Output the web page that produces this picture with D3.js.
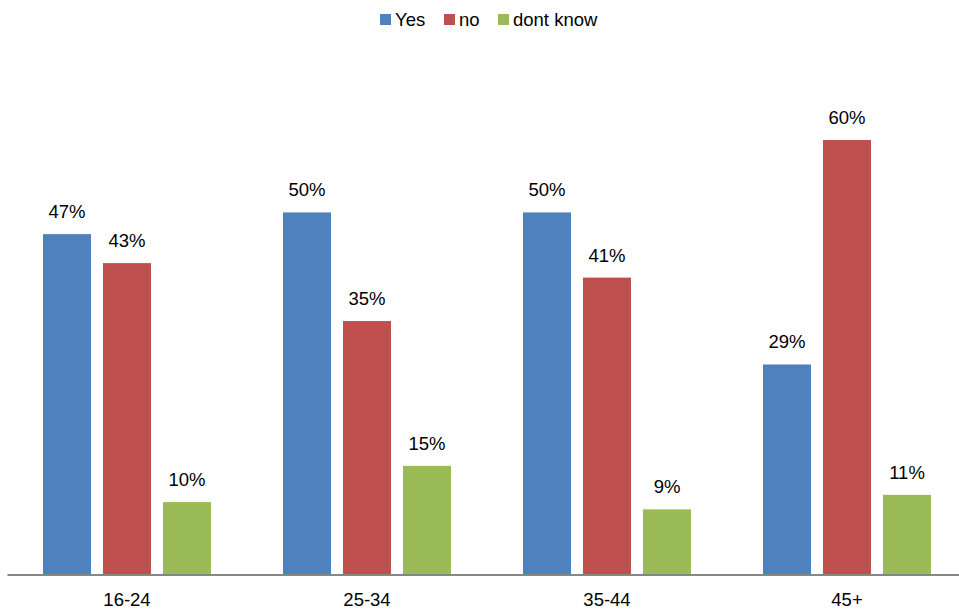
<!DOCTYPE html>
<html>
<head>
<meta charset="utf-8">
<script src="https://cdn.jsdelivr.net/npm/d3@7"></script>
<style>
  body { margin: 0; background: #fff; }
  text { font-family: "Liberation Sans", Arial, sans-serif; fill: #000; }
</style>
</head>
<body>
<svg id="chart"></svg>
<script>
// chart data
var categories = ["16-24", "25-34", "35-44", "45+"]
var seriesNames = ["Yes", "no", "dont know"]
var yesValues = [47, 50, 50, 29]
var noValues = [43, 35, 41, 60]
var dontKnowValues = [10, 15, 9, 11]
var colors = ["#4f81bd", "#c0504d", "#9bbb59"]

var allSeries = [yesValues, noValues, dontKnowValues]

var width = 959, height = 613
var svg = d3.select("#chart").attr("width", width).attr("height", height)

var baseline = 574.5
var fontSize = 18.5

// x scales
var x0 = d3.scaleBand().domain(categories).range([7, 967])
var x1 = d3.scaleBand().domain(seriesNames).range([36, 204]).paddingInner(0.2)
var y = d3.scaleLinear().domain([0, 60]).range([baseline, 140])

// bars
var groups = svg.append("g").selectAll("g")
    .data(categories)
    .enter().append("g")
    .attr("transform", d => "translate(" + x0(d) + ",0)")

groups.each(function(cat, ci) {
    var g = d3.select(this)
    seriesNames.forEach((s, si) => {
        var v = allSeries[si][ci]
        g.append("rect")
         .attr("x", x1(s))
         .attr("y", y(v))
         .attr("width", x1.bandwidth())
         .attr("height", baseline - y(v))
         .attr("fill", colors[si])
        g.append("text")
         .attr("x", x1(s) + x1.bandwidth() / 2)
         .attr("y", y(v) - 16)
         .attr("text-anchor", "middle")
         .attr("font-size", fontSize)
         .text(v + "%")
    })
})

// axis
var xAxis = svg.append("g")
    .attr("transform", "translate(0," + baseline + ")")
    .call(d3.axisBottom(x0).tickSize(0).tickPadding(18))
xAxis.select(".domain").attr("stroke", "#868686").attr("stroke-width", 2)
xAxis.selectAll("text").attr("font-size", fontSize).style("font-family", "Liberation Sans, Arial, sans-serif")

// legend
var legendX = [380, 444, 498]
var legend = svg.append("g")
seriesNames.forEach((s, i) => {
    legend.append("rect")
          .attr("x", legendX[i]).attr("y", 14)
          .attr("width", 11).attr("height", 11)
          .attr("fill", colors[i])
    legend.append("text")
          .attr("x", legendX[i] + 15).attr("y", 26)
          .attr("font-size", fontSize)
          .text(s)
})
</script>
</body>
</html>
